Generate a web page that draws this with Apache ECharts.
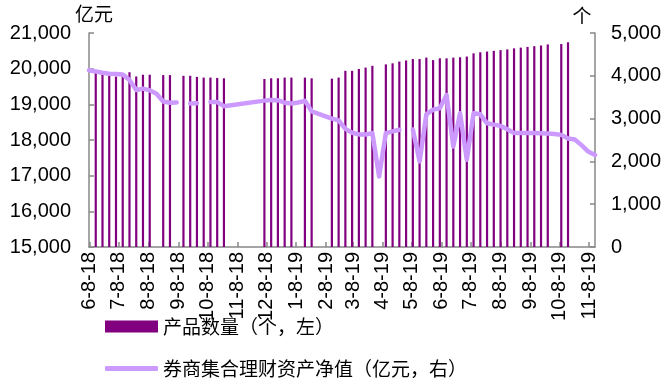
<!DOCTYPE html>
<html>
<head>
<meta charset="utf-8">
<script src="https://cdn.jsdelivr.net/npm/echarts@6/dist/echarts.min.js"></script>
<style>
  html, body { margin: 0; padding: 0; background: #fff; }
  #chart { width: 665px; height: 378px; }
</style>
</head>
<body>
<div id="chart"></div>
<script>
// axis span (daily category axis, labels on the 8th of each month)
const startDate = '2018-06-07'
const endDate = '2019-11-14'

// 产品数量 (weekly bars, left axis)
const barDates = [
  '2018-06-14', '2018-06-21', '2018-06-28', '2018-07-05', '2018-07-12', '2018-07-19', '2018-07-26',
  '2018-08-02', '2018-08-09', '2018-08-23', '2018-08-30', '2018-09-13', '2018-09-20', '2018-09-27',
  '2018-10-04', '2018-10-11', '2018-10-18', '2018-10-25', '2018-12-06', '2018-12-13', '2018-12-20',
  '2018-12-27', '2019-01-03', '2019-01-17', '2019-01-24', '2019-02-14', '2019-02-21', '2019-02-28',
  '2019-03-07', '2019-03-14', '2019-03-21', '2019-03-28', '2019-04-11', '2019-04-18', '2019-04-25',
  '2019-05-02', '2019-05-09', '2019-05-16', '2019-05-23', '2019-05-30', '2019-06-06', '2019-06-13',
  '2019-06-20', '2019-06-27', '2019-07-04', '2019-07-11', '2019-07-18', '2019-07-25', '2019-08-01',
  '2019-08-08', '2019-08-15', '2019-08-22', '2019-08-29', '2019-09-05', '2019-09-12', '2019-09-19',
  '2019-09-26', '2019-10-10', '2019-10-17'
]
const barValues = [
  19950, 19880, 19800, 19780, 19800, 19900, 19780,
  19830, 19830, 19820, 19820, 19800, 19800, 19770,
  19750, 19750, 19740, 19730, 19710, 19730, 19730,
  19750, 19750, 19750, 19730, 19720, 19750, 19940,
  19940, 19990, 20030, 20080, 20120, 20150, 20200,
  20230, 20270, 20270, 20310, 20240, 20290, 20290,
  20310, 20320, 20340, 20430, 20460, 20480, 20500,
  20520, 20540, 20570, 20590, 20610, 20630, 20650,
  20680, 20690, 20740
]

// 券商集合理财资产净值 (right axis), null = break in the line
const lineDates = [
  '2018-06-07', '2018-06-14', '2018-06-21', '2018-06-28', '2018-07-05', '2018-07-12', '2018-07-19',
  '2018-07-26', '2018-08-02', '2018-08-09', '2018-08-16', '2018-08-23', '2018-08-30', '2018-09-06',
  '2018-09-13', '2018-09-20', '2018-09-27', '2018-10-04', '2018-10-11', '2018-10-18', '2018-10-25',
  '2018-12-06', '2018-12-13', '2018-12-20', '2018-12-27', '2019-01-03', '2019-01-10', '2019-01-17',
  '2019-01-24', '2019-02-14', '2019-02-21', '2019-02-28', '2019-03-07', '2019-03-14', '2019-03-21',
  '2019-03-28', '2019-04-04', '2019-04-11', '2019-04-18', '2019-04-25', '2019-05-02', '2019-05-09',
  '2019-05-16', '2019-05-23', '2019-05-30', '2019-06-06', '2019-06-13', '2019-06-20', '2019-06-27',
  '2019-07-04', '2019-07-11', '2019-07-18', '2019-07-25', '2019-08-01', '2019-08-08', '2019-08-15',
  '2019-08-22', '2019-08-29', '2019-09-05', '2019-09-12', '2019-09-19', '2019-09-26', '2019-10-03',
  '2019-10-10', '2019-10-17', '2019-10-24', '2019-10-31', '2019-11-07', '2019-11-14'
]
const lineValues = [
  4130, 4100, 4070, 4050, 4040, 4030, 3900,
  3670, 3700, 3660, 3580, 3400, 3370, 3375,
  null, 3355, 3360, null, 3390, 3385, 3290,
  3420, 3435, 3430, 3370, 3355, 3375, 3415,
  3170, 3000, 2960, 2760, 2670, 2630, 2630,
  2660, 1650, 2660, 2700, 2740, null, 2745,
  2000, 3100, 3210, 3240, 3550, 2350, 3125,
  2040, 3125, 3100, 2890, 2860, 2830, 2750,
  2665, 2665, 2665, 2665, 2660, 2650, 2640,
  2620, 2535, 2510, 2380, 2230, 2150
]

const leftTicks = { min: 15000, max: 21000, interval: 1000 }
const rightTicks = { min: 0, max: 5000, interval: 1000 }

const barName = '产品数量（个，左）'
const lineName = '券商集合理财资产净值（亿元，右）'

const dayMs = 86400000
const toTime = (s) => Date.UTC(+s.slice(0, 4), +s.slice(5, 7) - 1, +s.slice(8, 10))
const days = []
for (let t = toTime(startDate); t <= toTime(endDate); t += dayMs) {
  days.push(new Date(t).toISOString().slice(0, 10))
}
const dayIndex = (s) => Math.round((toTime(s) - toTime(startDate)) / dayMs)
const isLabelDay = (idx, val) => val.slice(8) === '08'
const fmtDay = (val) => `${+val.slice(5, 7)}-${+val.slice(8, 10)}-${val.slice(2, 4)}`
const fmtNum = (v) => v.toLocaleString('en-US')

const font = "'Liberation Sans', Arial, 'Noto Sans CJK SC', sans-serif"
const cjkFont = "'Noto Sans CJK SC', sans-serif"
const axisGray = '#888888'
const legendText = { fontSize: 19, color: '#000', fontFamily: cjkFont }

const myChart = echarts.init(document.getElementById('chart'))
myChart.setOption({
  animation: false,
  textStyle: { fontFamily: font, color: '#000' },
  grid: { left: 89, right: 70, top: 33, bottom: 131 },
  legend: [
    {
      left: 105,
      top: 317,
      padding: 0,
      itemWidth: 53,
      itemHeight: 12,
      textStyle: legendText,
      data: [{ name: barName, icon: 'rect' }]
    },
    {
      left: 105,
      top: 359,
      padding: 0,
      itemWidth: 53,
      itemHeight: 5,
      textStyle: legendText,
      data: [{ name: lineName, icon: 'roundRect' }]
    }
  ],
  xAxis: {
    type: 'category',
    data: days,
    boundaryGap: false,
    axisLine: { lineStyle: { color: axisGray, width: 1.5 } },
    axisTick: { inside: true, length: 5, interval: isLabelDay, lineStyle: { color: axisGray, width: 1.5 } },
    axisLabel: { interval: isLabelDay, rotate: 90, fontSize: 20, color: '#000', margin: 5, formatter: fmtDay },
    splitLine: { show: false }
  },
  yAxis: [
    {
      type: 'value',
      ...leftTicks,
      name: '亿元',
      nameLocation: 'end',
      nameGap: 3,
      nameTextStyle: { fontSize: 19, color: '#000', padding: [0, 0, 0, 10], fontFamily: cjkFont },
      axisLine: { show: true, lineStyle: { color: axisGray, width: 1.5 } },
      axisTick: { show: true, inside: true, length: 5, lineStyle: { color: axisGray, width: 1.5 } },
      axisLabel: { fontSize: 20, color: '#000', margin: 18, formatter: fmtNum },
      splitLine: { show: false }
    },
    {
      type: 'value',
      ...rightTicks,
      position: 'right',
      name: '个',
      nameLocation: 'end',
      nameGap: 8,
      nameTextStyle: { fontSize: 19, color: '#000', padding: [0, 26, 0, 0], fontFamily: cjkFont },
      axisLine: { show: true, lineStyle: { color: axisGray, width: 1.5 } },
      axisTick: { show: true, inside: true, length: 5, lineStyle: { color: axisGray, width: 1.5 } },
      axisLabel: { fontSize: 20, color: '#000', margin: 16, formatter: fmtNum },
      splitLine: { show: false }
    }
  ],
  series: [
    {
      name: barName,
      type: 'bar',
      yAxisIndex: 0,
      barWidth: 2.2,
      itemStyle: { color: '#800080' },
      data: barDates.map((d, i) => [dayIndex(d), barValues[i]])
    },
    {
      name: lineName,
      type: 'line',
      yAxisIndex: 1,
      showSymbol: false,
      symbol: 'none',
      connectNulls: false,
      lineStyle: { color: '#CC99FF', width: 4.5, cap: 'round', join: 'round' },
      itemStyle: { color: '#CC99FF' },
      data: lineDates.map((d, i) => [dayIndex(d), lineValues[i] === null ? '-' : lineValues[i]])
    }
  ]
})
</script>
</body>
</html>
